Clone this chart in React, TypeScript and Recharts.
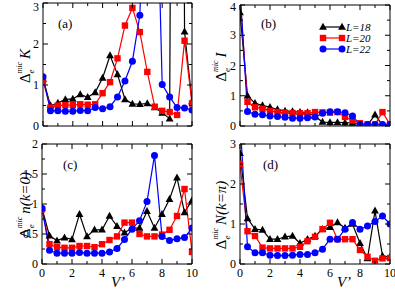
import { LineChart, Line, XAxis, YAxis, Legend } from "recharts";

// V' values shared by every panel
const vPrime = [0, 0.5, 1, 1.5, 2, 2.5, 3, 3.5, 4, 4.5, 5, 5.5, 6, 6.5, 7, 7.5, 8, 8.5, 9, 9.5, 10];

// (a) Δ K
const kL18 = [1.15, 0.5, 0.56, 0.65, 0.66, 0.77, 0.7, 0.82, 1.17, 1.72, 1.26, 0.65, 0.54, 0.53, 0.55, 0.45, 0.32, 0.18, 40, 2.3, 0.6];
const kL20 = [1.1, 0.45, 0.5, 0.51, 0.51, 0.53, 0.52, 0.53, 0.8, 1.07, 1.65, 2.45, 2.88, 2.29, 1.32, 0.47, 0.37, 0.34, 0.27, 2.08, 0.55];
const kL22 = [1.2, 0.37, 0.37, 0.36, 0.36, 0.38, 0.37, 0.45, 0.42, 0.47, 0.71, 1.1, 1.58, 2.7, 8, 8, 1.01, 0.71, 0.45, 0.44, 0.39];

// (b) Δ I
const iL18 = [3.75, 1.0, 0.75, 0.68, 0.62, 0.55, 0.5, 0.48, 0.46, 0.45, 0.32, 0.13, 0.12, 0.12, 0.11, 0.1, 0.05, 0.03, 0.37, 0.03, 0.03];
const iL20 = [4.3, 0.8, 0.62, 0.57, 0.5, 0.46, 0.44, 0.43, 0.42, 0.42, 0.46, 0.45, 0.44, 0.46, 0.3, 0.18, 0.09, 0.05, 0.05, 0.46, 0.05];
const iL22 = [4.5, 0.48, 0.39, 0.37, 0.33, 0.31, 0.29, 0.26, 0.26, 0.27, 0.3, 0.42, 0.47, 0.47, 0.44, 0.33, 0.05, 0.05, 0.05, 0.05, 0.05];

// (c) Δ n(k=0)
const nL18 = [0.93, 0.47, 0.39, 0.44, 0.41, 0.83, 0.46, 0.57, 0.57, 0.8, 0.63, 0.52, 0.6, 0.6, 0.88, 0.6, 0.83, 1.08, 1.44, 0.86, 1.06];
const nL20 = [0.91, 0.33, 0.28, 0.27, 0.27, 0.3, 0.3, 0.28, 0.33, 0.4, 0.46, 0.69, 0.69, 0.5, 0.46, 0.46, 0.49, 0.57, 0.8, 1.25, 0.2];
const nL22 = [0.93, 0.23, 0.18, 0.18, 0.18, 0.19, 0.18, 0.18, 0.18, 0.2, 0.26, 0.41, 0.58, 0.72, 1.04, 1.81, 0.46, 0.39, 0.42, 0.44, 0.6];

// (d) Δ N(k=π)
const bigNL18 = [2.77, 1.14, 0.87, 0.85, 0.62, 0.62, 0.68, 0.7, 0.52, 0.62, 0.7, 0.87, 0.92, 1.04, 0.9, 1.0, 0.52, 0.14, 1.33, 0.2, 0.17];
const bigNL20 = [2.5, 0.82, 0.7, 0.41, 0.39, 0.39, 0.39, 0.39, 0.43, 0.57, 0.68, 0.87, 1.03, 0.62, 0.62, 0.62, 0.35, 0.18, 0.08, 0.14, 0.15];
const bigNL22 = [3.6, 0.43, 0.28, 0.28, 0.22, 0.21, 0.21, 0.22, 0.24, 0.24, 0.28, 0.37, 0.62, 0.62, 0.87, 1.04, 0.87, 0.95, 1.06, 1.2, 1.0];

// ticks
const xTicks = [0, 1, 2, 3, 4, 5, 6, 7, 8, 9, 10];
const xLabels = [0, 2, 4, 6, 8, 10];
const yTicks3 = [0, 0.5, 1, 1.5, 2, 2.5, 3];
const yLabels3 = [0, 1, 2, 3];
const yTicks4 = [0, 0.5, 1, 1.5, 2, 2.5, 3, 3.5, 4];
const yLabels4 = [0, 1, 2, 3, 4];
const yTicks2 = [0, 0.25, 0.5, 0.75, 1, 1.25, 1.5, 1.75, 2];
const yLabels2 = [0, 0.5, 1, 1.5, 2];

const series = [
    { key: "L18", name: "L=18", color: "#000000", shape: "triangle" },
    { key: "L20", name: "L=20", color: "#ff0000", shape: "square" },
    { key: "L22", name: "L=22", color: "#0000ff", shape: "circle" },
];

const FONT = "'Liberation Serif', 'Times New Roman', serif";

function Marker({ cx, cy, shape, color }: any) {
    if (cx == null || cy == null || isNaN(cx) || isNaN(cy)) return null;
    if (shape === "triangle")
        return <polygon points={`${cx},${cy - 4.2} ${cx - 3.9},${cy + 2.8} ${cx + 3.9},${cy + 2.8}`} fill={color} />;
    if (shape === "square")
        return <rect x={cx - 3.2} y={cy - 3.2} width={6.4} height={6.4} fill={color} />;
    return <circle cx={cx} cy={cy} r={3.5} fill={color} />;
}

// inward ticks, labels only on majors
const bottomTick = (showLabel: boolean) => (p: any) => {
    const major = xLabels.includes(p.payload.value);
    return (
        <g>
            <line x1={p.x} x2={p.x} y1={p.y} y2={p.y - (major ? 5 : 3)} stroke="#000" />
            {showLabel && major && (
                <text x={p.x} y={p.y + 13} textAnchor="middle" style={{ fontFamily: FONT }} fontSize={12} fill="#000">
                    {p.payload.value}
                </text>
            )}
        </g>
    );
};

const topTick = (p: any) => {
    const major = xLabels.includes(p.payload.value);
    return <line x1={p.x} x2={p.x} y1={p.y} y2={p.y + (major ? 5 : 3)} stroke="#000" />;
};

const leftTick = (labels: number[]) => (p: any) => {
    const major = labels.includes(p.payload.value);
    // keep the top label inside the panel
    const ty = Math.max(p.y, 7);
    return (
        <g>
            <line x1={p.x} x2={p.x + (major ? 5 : 3)} y1={p.y} y2={p.y} stroke="#000" />
            {major && (
                <text x={p.x - 4} y={ty} dy="0.35em" textAnchor="end" style={{ fontFamily: FONT }} fontSize={12} fill="#000">
                    {p.payload.value}
                </text>
            )}
        </g>
    );
};

const rightTick = (labels: number[]) => (p: any) => {
    const major = labels.includes(p.payload.value);
    return <line x1={p.x} x2={p.x - (major ? 5 : 3)} y1={p.y} y2={p.y} stroke="#000" />;
};

function LegendBox() {
    return (
        <svg width={70} height={36}>
            {series.map((s, i) => {
                const y = 6 + i * 11;
                return (
                    <g key={s.key}>
                        <line x1={4} x2={23} y1={y} y2={y} stroke={s.color} strokeWidth={1.2} />
                        <Marker cx={4} cy={y} shape={s.shape} color={s.color} />
                        <Marker cx={23} cy={y} shape={s.shape} color={s.color} />
                        <text x={27} y={y} dy="0.35em" style={{ fontFamily: FONT }} fontSize={11} fontStyle="italic" fill="#000">
                            {s.name}
                        </text>
                    </g>
                );
            })}
        </svg>
    );
}

interface PanelProps {
    l18: number[];
    l20: number[];
    l22: number[];
    yMax: number;
    yTicks: number[];
    yLabels: number[];
    showX: boolean;
    width: number;
    height: number;
    plot: { left: number; top: number; right: number; bottom: number };
    legend?: boolean;
}

function Panel({ l18, l20, l22, yMax, yTicks, yLabels, showX, width, height, plot, legend }: PanelProps) {
    const rows = vPrime.map((v, i) => ({ v, L18: l18[i], L20: l20[i], L22: l22[i] }));
    const axisLine = { stroke: "#000", strokeWidth: 1 };
    return (
        <LineChart
            width={width}
            height={height}
            data={rows}
            margin={{ top: plot.top - 1, right: width - plot.right - 1, bottom: 0, left: 0 }}
        >
            <XAxis
                dataKey="v"
                type="number"
                domain={[0, 10]}
                ticks={xTicks}
                interval={0}
                tickSize={0}
                tickMargin={0}
                height={height - plot.bottom}
                axisLine={axisLine}
                tickLine={false}
                tick={bottomTick(showX)}
                allowDataOverflow
            />
            <XAxis
                xAxisId="top"
                orientation="top"
                dataKey="v"
                type="number"
                domain={[0, 10]}
                ticks={xTicks}
                interval={0}
                tickSize={0}
                tickMargin={0}
                height={1}
                axisLine={axisLine}
                tickLine={false}
                tick={topTick}
            />
            <YAxis
                type="number"
                domain={[0, yMax]}
                ticks={yTicks}
                interval={0}
                tickSize={0}
                tickMargin={0}
                width={plot.left}
                axisLine={axisLine}
                tickLine={false}
                tick={leftTick(yLabels)}
                allowDataOverflow
            />
            <YAxis
                yAxisId="right"
                orientation="right"
                type="number"
                domain={[0, yMax]}
                ticks={yTicks}
                interval={0}
                tickSize={0}
                tickMargin={0}
                width={1}
                axisLine={axisLine}
                tickLine={false}
                tick={rightTick(yLabels)}
                allowDataOverflow
            />
            {series.map((s) => (
                <Line
                    key={s.key}
                    dataKey={s.key}
                    name={s.name}
                    stroke={s.color}
                    strokeWidth={1.2}
                    dot={(p: any) => <Marker key={`${s.key}-${p.index}`} cx={p.cx} cy={p.cy} shape={s.shape} color={s.color} />}
                    activeDot={false}
                    isAnimationActive={false}
                />
            ))}
            {legend && (
                <Legend
                    layout="vertical"
                    align="center"
                    verticalAlign="middle"
                    wrapperStyle={{ position: "absolute", left: 122, top: 21, width: 70, height: 36 }}
                    content={() => <LegendBox />}
                />
            )}
        </LineChart>
    );
}

// rotated y-axis title: Δ_e^mic + quantity
function DeltaTitle({ x, y, what }: { x: number; y: number; what: string }) {
    return (
        <text transform={`translate(${x},${y}) rotate(-90)`} textAnchor="middle" style={{ fontFamily: FONT }} fontSize={15} fill="#000">
            <tspan>Δ</tspan>
            <tspan fontSize={9} fontStyle="italic" dy={4}>e</tspan>
            <tspan fontSize={8} fontStyle="italic" dx={-4} dy={-12}>mic</tspan>
            <tspan fontStyle="italic" dx={3} dy={8}>{what}</tspan>
        </text>
    );
}

export default function App() {
    return (
        <div style={{ position: "absolute", left: 0, top: 0, width: 395, height: 290, background: "#fff" }}>
            <div style={{ position: "absolute", left: 0, top: 0 }}>
                <Panel l18={kL18} l20={kL20} l22={kL22} yMax={3} yTicks={yTicks3} yLabels={yLabels3} showX={false}
                    width={200} height={140} plot={{ left: 43, top: 3, right: 192, bottom: 126 }} />
            </div>
            <div style={{ position: "absolute", left: 197, top: 0 }}>
                <Panel l18={iL18} l20={iL20} l22={iL22} yMax={4} yTicks={yTicks4} yLabels={yLabels4} showX={false}
                    width={198} height={140} plot={{ left: 43, top: 5, right: 193, bottom: 126 }} legend />
            </div>
            <div style={{ position: "absolute", left: 0, top: 130 }}>
                <Panel l18={nL18} l20={nL20} l22={nL22} yMax={2} yTicks={yTicks2} yLabels={yLabels2} showX
                    width={200} height={160} plot={{ left: 42, top: 14, right: 192, bottom: 134 }} />
            </div>
            <div style={{ position: "absolute", left: 197, top: 130 }}>
                <Panel l18={bigNL18} l20={bigNL20} l22={bigNL22} yMax={3} yTicks={yTicks3} yLabels={yLabels3} showX
                    width={198} height={160} plot={{ left: 43, top: 14, right: 193, bottom: 134 }} />
            </div>
            <svg width={395} height={290} style={{ position: "absolute", left: 0, top: 0, pointerEvents: "none", fontFamily: FONT }}>
                <DeltaTitle x={30} y={66} what="K" />
                <DeltaTitle x={226} y={67} what="I" />
                <DeltaTitle x={30} y={205} what="n(k=0)" />
                <DeltaTitle x={226} y={215} what="N(k=π)" />
                <text x={58} y={28} fontSize={13}>(a)</text>
                <text x={261} y={28} fontSize={13}>(b)</text>
                <text x={63} y={169} fontSize={13}>(c)</text>
                <text x={263} y={169} fontSize={13}>(d)</text>
                <text x={118} y={287} textAnchor="middle" fontSize={15} fontStyle="italic">V’</text>
                <text x={344} y={287} textAnchor="middle" fontSize={15} fontStyle="italic">V’</text>
            </svg>
        </div>
    );
}
